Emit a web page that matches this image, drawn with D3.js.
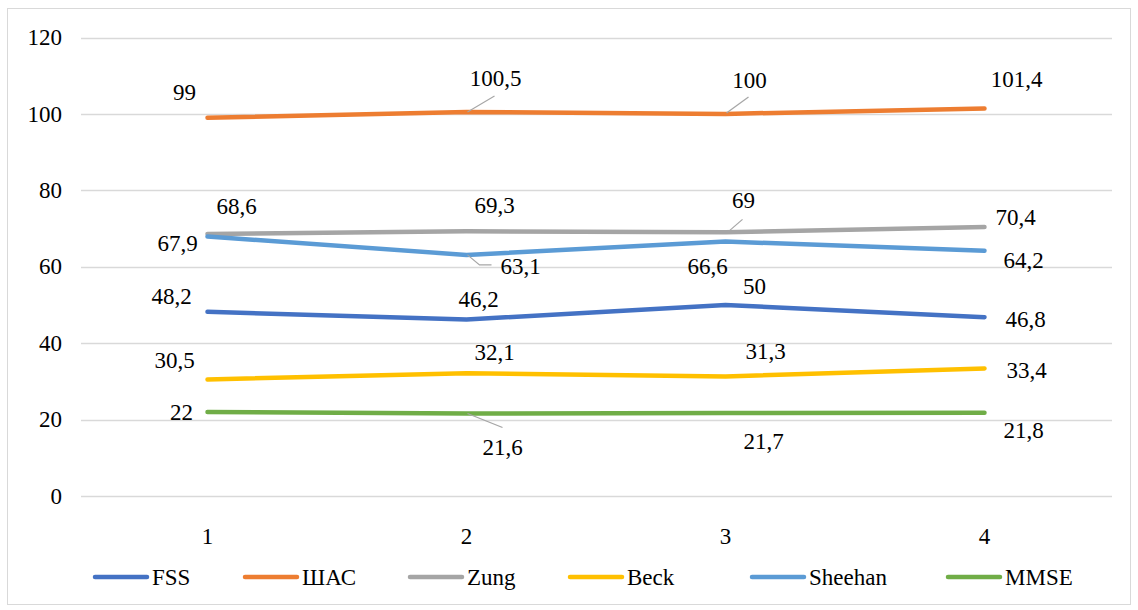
<!DOCTYPE html>
<html>
<head>
<meta charset="utf-8">
<script src="https://cdn.jsdelivr.net/npm/d3@7"></script>
</head>
<body style="margin:0; background:#fff">
<svg id="chart" width="1138" height="610" style="display:block" font-family="Liberation Serif"></svg>
<script>
// Measurement sessions on the x axis
const categories = [1, 2, 3, 4];

// Scale scores per session
const seriesNames = ["FSS", "ШАС", "Zung", "Beck", "Sheehan", "MMSE"];
const fss     = [48.2, 46.2, 50, 46.8];
const shas    = [99, 100.5, 100, 101.4];
const zung    = [68.6, 69.3, 69, 70.4];
const beck    = [30.5, 32.1, 31.3, 33.4];
const sheehan = [67.9, 63.1, 66.6, 64.2];
const mmse    = [22, 21.6, 21.7, 21.8];
const seriesValues = [fss, shas, zung, beck, sheehan, mmse];

// Y axis ticks
const yTicks = [0, 20, 40, 60, 80, 100, 120];

// Styling
const colors = ["#4472C4", "#ED7D31", "#A5A5A5", "#FFC000", "#5B9BD5", "#70AD47"];
const textFont = '"Liberation Serif", monospace';
const fontSize = 23;

// Value-label placement (pixel offsets from each point) and leader lines
const labelOffsets = [
  [[-36, -15], [12, -20], [29, -19], [41, 2]],
  [[-23, -25], [29, -34], [24, -34], [32, -29]],
  [[29, -27], [28, -26], [18, -32], [31, -10]],
  [[-33, -19], [28, -21], [40, -25], [42, 2]],
  [[-30, 7], [54, 12], [-18, 25], [39, 10]],
  [[-26, 0], [36, 34], [38, 28], [39, 18]]
];
const leaders = [
  { s: 1, i: 1, pts: [[1, 0], [28, -16]] },
  { s: 1, i: 2, pts: [[1, -1], [23, -17]] },
  { s: 2, i: 2, pts: [[2, 0], [17, -13]] },
  { s: 4, i: 1, pts: [[1, 0], [13, 10], [25, 10]] },
  { s: 5, i: 1, pts: [[1, 0], [36, 14]] }
];

const svg = d3.select("#chart");

// Shared text styling
function styleText(sel) {
  return sel
    .attr("font-family", "Liberation Serif")
    .style("font-family", textFont)
    .attr("font-size", fontSize)
    .attr("fill", "#000");
}

// Outer chart border
svg.append("rect")
  .attr("x", 7.5).attr("y", 8.5)
  .attr("width", 1123).attr("height", 596)
  .attr("fill", "#fff")
  .attr("stroke", "#d9d9d9").attr("stroke-width", 1);

const x = d3.scalePoint().domain(categories).range([78, 1114]).padding(0.5);
const y = d3.scaleLinear().domain([0, 120]).range([496, 37.5]);
const plotLeft = 81, plotRight = 1112;

// Horizontal gridlines
svg.append("g").selectAll("line")
  .data(yTicks).join("line")
  .attr("x1", plotLeft).attr("x2", plotRight)
  .attr("y1", d => Math.round(y(d)) + 0.5).attr("y2", d => Math.round(y(d)) + 0.5)
  .attr("stroke", "#d9d9d9").attr("stroke-width", 1.3);

// Y axis labels
svg.append("g").selectAll("text")
  .data(yTicks).join("text")
  .attr("x", 62).attr("y", d => y(d))
  .attr("dy", "0.33em")
  .attr("text-anchor", "end")
  .call(styleText)
  .text(d => d);

// X axis labels
svg.append("g").selectAll("text")
  .data(categories).join("text")
  .attr("x", d => x(d)).attr("y", 536)
  .attr("dy", "0.33em")
  .attr("text-anchor", "middle")
  .call(styleText)
  .text(d => d);

// Series lines
const line = d3.line()
  .x((d, i) => x(categories[i]))
  .y(d => y(d));

svg.append("g").selectAll("path")
  .data(seriesValues).join("path")
  .attr("d", d => line(d))
  .attr("fill", "none")
  .attr("stroke", (d, i) => colors[i])
  .attr("stroke-width", 4.5)
  .attr("stroke-linecap", "round")
  .attr("stroke-linejoin", "round");

// Leader lines for displaced labels
svg.append("g").selectAll("polyline")
  .data(leaders).join("polyline")
  .attr("points", l => {
    const px = x(categories[l.i]), py = y(seriesValues[l.s][l.i]);
    return l.pts.map(p => `${px + p[0]},${py + p[1]}`).join(" ");
  })
  .attr("fill", "none")
  .attr("stroke", "#a6a6a6")
  .attr("stroke-width", 1.2);

// Value labels
const fmt = v => String(v).replace(".", ",");
const labelData = [];
seriesValues.forEach((vals, s) => vals.forEach((v, i) => labelData.push({ s, i, v })));
svg.append("g").selectAll("text")
  .data(labelData).join("text")
  .attr("x", d => x(categories[d.i]) + labelOffsets[d.s][d.i][0])
  .attr("y", d => y(d.v) + labelOffsets[d.s][d.i][1])
  .attr("dy", "0.33em")
  .attr("text-anchor", "middle")
  .call(styleText)
  .text(d => fmt(d.v));

// Legend
const legendX = [95, 245, 410, 570, 752, 948];
const legendY = 577;
const legend = svg.append("g").selectAll("g")
  .data(seriesNames).join("g")
  .attr("transform", (d, i) => `translate(${legendX[i]},${legendY})`);
legend.append("line")
  .attr("x1", 0).attr("x2", 52).attr("y1", 0).attr("y2", 0)
  .attr("stroke", (d, i) => colors[i])
  .attr("stroke-width", 4.5)
  .attr("stroke-linecap", "round");
legend.append("text")
  .attr("x", 57).attr("y", 0)
  .attr("dy", "0.33em")
  .call(styleText)
  .text(d => d);
</script>
</body>
</html>
